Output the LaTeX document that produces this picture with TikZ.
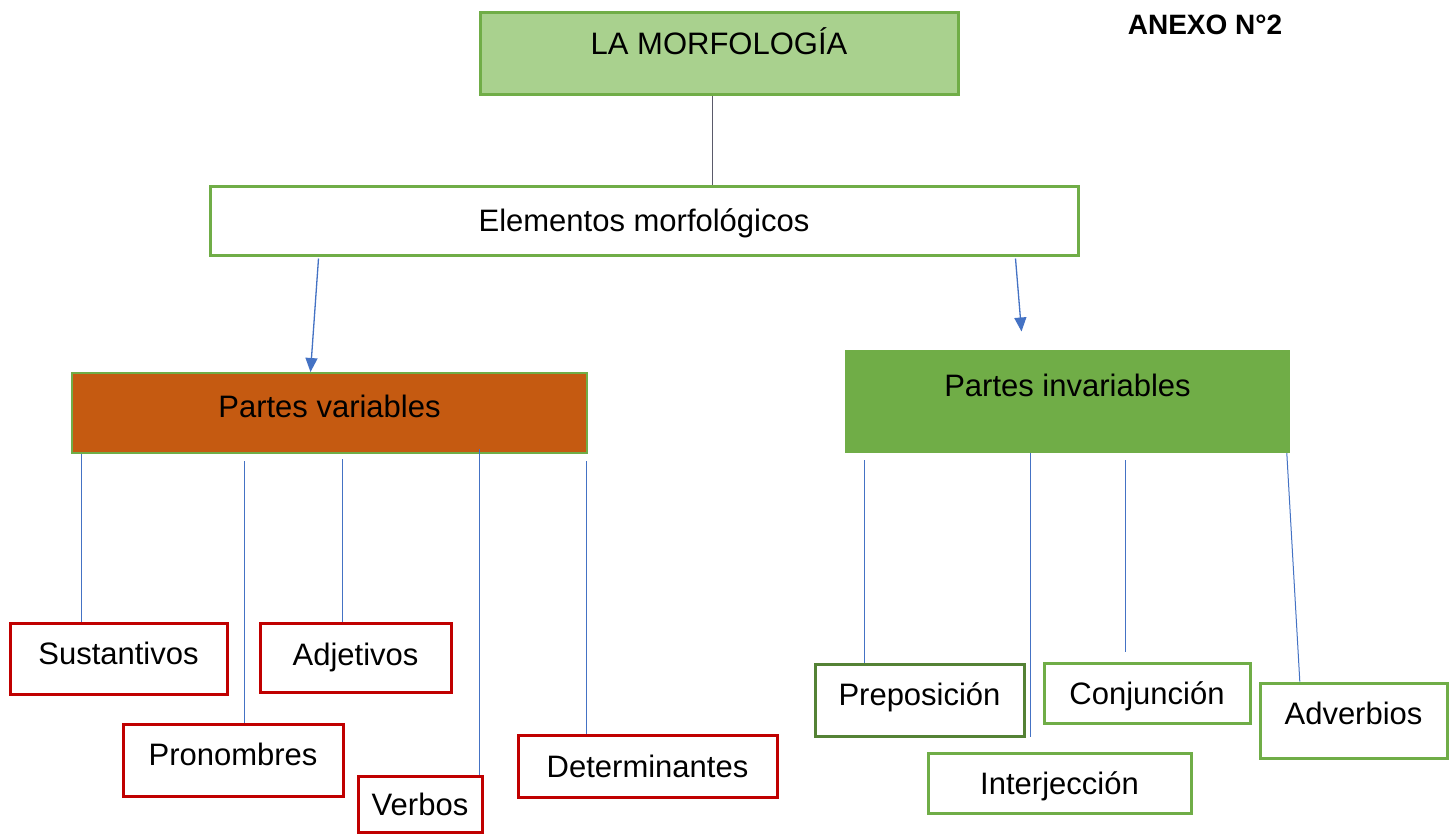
\documentclass[tikz,border=0pt]{standalone}
\usepackage{fontspec}
\setmainfont{Liberation Sans}
\usetikzlibrary{arrows.meta,calc}
\definecolor{lgreen}{HTML}{A9D18E}
\definecolor{mgreen}{HTML}{70AD47}
\definecolor{dgreen}{HTML}{548235}
\definecolor{orng}{HTML}{C55A11}
\definecolor{rd}{HTML}{C00000}
\definecolor{ln}{HTML}{4472C4}
\definecolor{gln}{HTML}{5A5A6A}
\begin{document}
\begin{tikzpicture}[x=1pt,y=-1pt,
  txt/.style={font=\fontsize{31}{36}\selectfont, inner sep=0pt, text height=22pt, align=center},
  redbox/.style={txt, draw=rd, line width=3pt, fill=white},
  greenbox/.style={txt, draw=mgreen, line width=3pt, fill=white},
  conn/.style={draw=ln, line width=1pt},
  arr/.style={draw=ln, line width=1.3pt, -{Triangle[width=12pt,length=14pt]}, color=ln}]
\fill[white] (0,0) rectangle (1456,833);
\useasboundingbox (0,0) rectangle (1456,833);

% title
\node[font=\fontsize{28}{32}\selectfont\bfseries, inner sep=0pt] (anexo) at (1205,25) {ANEXO N°2};

% main boxes
\node[txt, draw=mgreen, fill=lgreen, line width=3pt, minimum width=478pt, minimum height=82pt, text depth=20pt] (top) at (719,53) {LA MORFOLOGÍA};
\node[greenbox, minimum width=868pt, minimum height=69pt, text depth=0pt] (elem) at (644,220.5) {Elementos morfológicos};
\node[txt, draw=mgreen, fill=orng, line width=2pt, minimum width=515pt, minimum height=80pt, text depth=13pt] (pv) at (329.5,413) {Partes variables};
\node[txt, fill=mgreen, minimum width=445pt, minimum height=103pt, text depth=32pt] (pi) at (1067.5,401.5) {Partes invariables};

% variable parts
\node[redbox, minimum width=217pt, minimum height=71pt, text depth=10pt] (sus) at (118.5,658.5) {Sustantivos};
\node[redbox, minimum width=191pt, minimum height=69pt, text depth=7pt] (adj) at (355.5,657.5) {Adjetivos};
\node[redbox, minimum width=220pt, minimum height=72pt, text depth=11pt] (pro) at (233,760) {Pronombres};
\node[redbox, minimum width=124pt, minimum height=56pt, text depth=0pt] (ver) at (420,804) {Verbos};
\node[redbox, minimum width=259pt, minimum height=62pt, text depth=0pt] (det) at (647.5,766) {Determinantes};

% invariable parts
\node[txt, draw=dgreen, fill=white, line width=3pt, minimum width=209pt, minimum height=72pt, text depth=12pt] (pre) at (919.5,700) {Preposición};
\node[greenbox, minimum width=206pt, minimum height=60pt, text depth=0pt] (con) at (1147,693) {Conjunción};
\node[greenbox, minimum width=187pt, minimum height=75pt, text depth=15pt] (adv) at (1353.5,720.5) {Adverbios};
\node[greenbox, minimum width=263pt, minimum height=60pt, text depth=0pt] (int) at (1059.5,783) {Interjección};

% connectors
\draw[draw=gln, line width=1pt] ($(top.south)+(-7,0)$) coordinate (t1) -- (t1 |- elem.north);

\coordinate (la0) at ($(elem.south west)+(110,2)$);
\coordinate (la1) at ($(elem.south west)+(102,0)$);
\draw[arr] (la0) -- (la1 |- pv.north);
\coordinate (ra0) at ($(elem.south west)+(807,2)$);
\coordinate (arrend) at ($(elem.south west)+(813,75)$);
\draw[arr] (ra0) -- (arrend);

\draw[conn] ($(pv.south west)+(10,0)$) coordinate (a1) -- (a1 |- sus.north);
\draw[conn] ($(pv.south west)+(173,7)$) coordinate (a2) -- (a2 |- pro.north);
\draw[conn] ($(pv.south west)+(271,5)$) coordinate (a3) -- (a3 |- adj.north);
\draw[conn] ($(pv.south west)+(408,-5)$) coordinate (a4) -- (a4 |- ver.north);
\draw[conn] ($(pv.south west)+(515,7)$) coordinate (a5) -- (a5 |- det.north);

\draw[conn] ($(pi.south west)+(20,7)$) coordinate (b1) -- (b1 |- pre.north);
\coordinate (b2end) at ($(pi.south west)+(186,284)$);
\draw[conn] ($(pi.south west)+(186,0)$) -- (b2end);
\coordinate (b3end) at ($(pi.south west)+(281,199)$);
\draw[conn] ($(pi.south west)+(281,7)$) -- (b3end);
\coordinate (b4) at ($(pi.south west)+(442,0)$);
\coordinate (b4x) at ($(pi.south west)+(455,0)$);
\draw[conn] (b4) -- (b4x |- adv.north);
\end{tikzpicture}
\end{document}
